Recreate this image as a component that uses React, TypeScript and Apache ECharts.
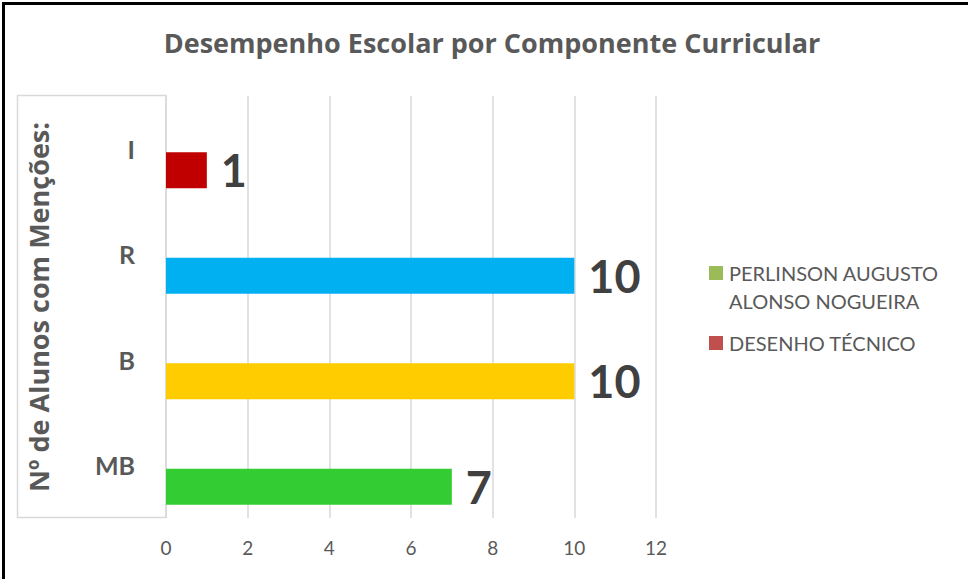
import React, { useEffect, useRef } from "react";
import * as echarts from "echarts";

const categories = ["MB", "B", "R", "I"];
const values = [7, 10, 10, 1];
const barColors = ["#33CC33", "#FFCC00", "#00B0F0", "#C00000"];
const seriesNames = ["PERLINSON AUGUSTO ALONSO NOGUEIRA", "DESENHO TÉCNICO"];
const legendLines = [["PERLINSON AUGUSTO", "ALONSO NOGUEIRA"], ["DESENHO TÉCNICO"]];
const legendColors = ["#9BBB59", "#C0504D"];
const xTicks = { min: 0, max: 12, interval: 2 };

const FONT = "Lato";
const HEAD = "Open Sans";

export default function App() {
  const ref = useRef<HTMLDivElement>(null);
  useEffect(() => {
    if (!ref.current) return;
    const chart = echarts.init(ref.current, null, { renderer: "svg" });

    // legend drawn as graphic so the swatch aligns with the first text line
    const legendGraphics: any[] = [];
    let y = 265;
    legendLines.forEach((lines, i) => {
      legendGraphics.push({
        type: "rect",
        shape: { x: 709, y: y + 1, width: 14, height: 14 },
        style: { fill: legendColors[i] },
        silent: true,
      });
      legendGraphics.push({
        type: "text",
        x: 729,
        y: y - 6,
        style: {
          text: lines.join("\n"),
          font: `20px ${FONT}`,
          fill: "#595959",
          lineHeight: 28,
          verticalAlign: "top",
        },
        silent: true,
      });
      y += lines.length * 28 + 14;
    });

    chart.setOption({
      animation: false,
      backgroundColor: "#FFFFFF",
      textStyle: { fontFamily: FONT },
      title: {
        text: "Desempenho Escolar por Componente Curricular",
        left: 487,
        textAlign: "center",
        top: 24,
        textStyle: { fontFamily: HEAD, fontWeight: "bold", fontSize: 27, color: "#595959" },
      },
      grid: { left: 166, right: 312, top: 96, bottom: 61, containLabel: false },
      xAxis: {
        type: "value",
        min: xTicks.min,
        max: xTicks.max,
        interval: xTicks.interval,
        axisLine: { show: false },
        axisTick: { show: false },
        axisLabel: { fontFamily: FONT, fontSize: 19, color: "#595959", margin: 20 },
        splitLine: { show: true, lineStyle: { color: "#D9D9D9", width: 1.5 } },
      },
      yAxis: {
        type: "category",
        data: categories,
        axisLine: { show: false },
        axisTick: { show: false },
        axisLabel: {
          fontFamily: FONT,
          fontWeight: "bold",
          fontSize: 25,
          color: "#595959",
          margin: 31,
          verticalAlign: "middle",
        },
        name: "Nº de Alunos com Menções:",
        nameLocation: "middle",
        nameRotate: 90,
        nameGap: 114,
        nameTextStyle: { fontFamily: HEAD, fontWeight: "bold", fontSize: 27, color: "#595959" },
      },
      series: [
        {
          name: seriesNames[1],
          type: "bar",
          barWidth: 36,
          barGap: "20%",
          itemStyle: { color: legendColors[1] },
          data: categories.map(() => null),
        },
        {
          name: seriesNames[0],
          type: "bar",
          barWidth: 36,
          barGap: "20%",
          data: values.map((v, i) => ({ value: v, itemStyle: { color: barColors[i] } })),
          itemStyle: { color: legendColors[0] },
          label: {
            show: true,
            position: "right",
            distance: 14,
            fontFamily: FONT,
            fontWeight: "bold",
            fontSize: 45,
            color: "#404040",
          },
        },
      ],
      graphic: [
        {
          type: "rect",
          shape: { x: 17.5, y: 95.5, width: 148.5, height: 422 },
          style: { fill: "none", stroke: "#D9D9D9", lineWidth: 1.5 },
          silent: true,
        },
        {
          type: "line",
          shape: { x1: 3.5, y1: 2, x2: 3.5, y2: 579 },
          style: { stroke: "#000000", lineWidth: 3 },
          silent: true,
        },
        {
          type: "line",
          shape: { x1: 2, y1: 3.5, x2: 968, y2: 3.5 },
          style: { stroke: "#000000", lineWidth: 3 },
          silent: true,
        },
        ...legendGraphics,
      ],
    });
    return () => chart.dispose();
  }, []);
  return (
    <div
      ref={ref}
      style={{ position: "fixed", left: 0, top: 0, width: 968, height: 579 }}
    />
  );
}
